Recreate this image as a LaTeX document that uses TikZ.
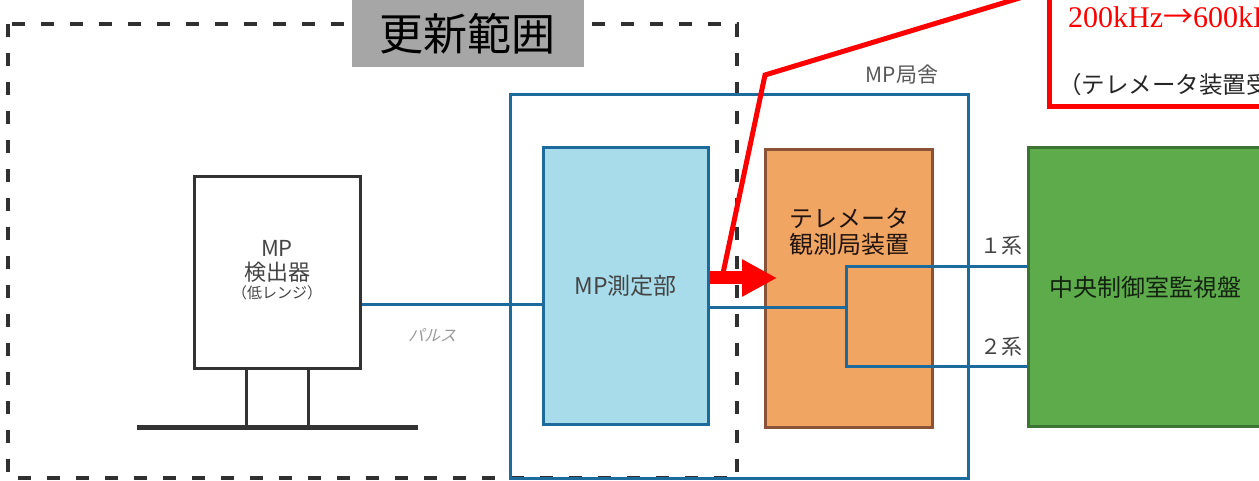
\documentclass[tikz,border=0pt]{standalone}
\usepackage{fontspec}
\setmainfont{Noto Sans CJK JP}
\newfontfamily\serifrm{Liberation Serif}
\newfontfamily\cjkfont{Noto Sans CJK JP}
\newfontfamily\handfont{Noto Sans CJK JP}[FakeSlant=0.25]
\usetikzlibrary{arrows.meta}
\definecolor{lineblue}{HTML}{1D6A9C}
\definecolor{meterfill}{HTML}{A8DCEA}
\definecolor{telefill}{HTML}{F0A562}
\definecolor{teledraw}{HTML}{8A5236}
\definecolor{greenfill}{HTML}{5EAB4C}
\definecolor{greendraw}{HTML}{3B7433}
\definecolor{grayfill}{HTML}{A6A6A6}
\definecolor{dashblack}{HTML}{303030}
\definecolor{detblack}{HTML}{333333}
\definecolor{textgray}{HTML}{444444}
\definecolor{callred}{HTML}{FF0000}
\tikzset{
  fs/.style={font=\fontsize{#1}{#1}\selectfont},
  unitbox/.style={inner sep=0pt, line width=3pt},
  bluewire/.style={draw=lineblue, line width=3pt},
  plaintext/.style={inner sep=0pt, text=textgray},
}
\begin{document}
\begin{tikzpicture}[x=1pt,y=-1pt]
\useasboundingbox (0,0) rectangle (1259,481);
\clip (0,0) rectangle (1259,481);
\fill[white] (0,0) rectangle (1259,481);

% update range (dashed)
\draw[dashblack, line width=3.5pt, dash pattern=on 13pt off 16pt] (8,24) rectangle (737,478);
\node[fill=grayfill, minimum width=232pt, minimum height=67pt, inner sep=0pt, fs=44] (range) at (467.5,33.5) {更新範囲};

% MP station house
\node[unitbox, draw=lineblue, minimum width=458pt, minimum height=383pt] (house) at (739,286.5) {};
\node[plaintext, fs=21, text=textgray!90] (houselabel) at (902,75) {MP局舎};

% detector
\node[unitbox, draw=detblack, minimum width=166pt, minimum height=191pt] (det) at (277,272.5) {};
\node[plaintext, fs=22] (detmp) at (277,248) {MP};
\node[plaintext, fs=22] (detname) at (277,272) {検出器};
\node[plaintext, fs=15] (detrange) at (277,293) {（低レンジ）};
\coordinate (legA) at (246,427);
\coordinate (legB) at (308,427);
\coordinate (baseL) at (137,427);
\coordinate (baseR) at (418,427);
\draw[detblack, line width=3pt] (legA |- det.south) -- (legA);
\draw[detblack, line width=3pt] (legB |- det.south) -- (legB);
\draw[detblack, line width=5pt] (baseL) -- (baseR);

% MP measuring unit
\node[unitbox, draw=lineblue, fill=meterfill, minimum width=165pt, minimum height=276pt, fs=23, text=textgray] (meter) at (625.5,286) {MP測定部};

% telemeter
\node[unitbox, draw=teledraw, fill=telefill, minimum width=167pt, minimum height=277pt] (tele) at (848.5,288.5) {};
\node[inner sep=0pt, align=center, font=\fontsize{24}{26}\selectfont, text=black!75!teledraw] (teletext) at (849,232) {テレメータ\\観測局装置};

% central control panel
\node[unitbox, draw=greendraw, fill=greenfill, minimum width=234pt, minimum height=278pt, fs=24, text=black!70!greendraw] (panel) at (1145,287) {中央制御室監視盤};

% wires
\coordinate (pulseY) at (0,304);
\draw[bluewire] (det.east |- pulseY) -- (meter.west |- pulseY);
\node[inner sep=0pt, font=\handfont\fontsize{16}{16}\selectfont, text=gray!80] (pulse) at (432,335) {パルス};
\coordinate (split) at (846,307);
\coordinate (sysA) at (846,267);
\coordinate (sysB) at (846,366);
\draw[bluewire] (meter.east |- split) -- (split);
\draw[bluewire] (panel.west |- sysA) -- (sysA) -- (sysB) -- (panel.west |- sysB);
\node[plaintext, fs=21] (sysAlabel) at (1001,246) {１系};
\node[plaintext, fs=21] (sysBlabel) at (1001,347) {２系};

% red callout
\coordinate (callNW) at (1049,-20);
\coordinate (callSE) at (1300,107);
\draw[callred, line width=5pt] (callNW) rectangle (callSE);
\node[anchor=base west, inner sep=0pt, text=callred, font=\serifrm\fontsize{30}{30}\selectfont] (freq) at (1068,28) {200kHz{\cjkfont →}600kHz};
\node[anchor=base west, inner sep=0pt, fs=23.5, text=black!85] (note) at (1058,94) {（テレメータ装置受};
\coordinate (leadfar) at (1046,-10);
\coordinate (leadbend) at (765,75);
\coordinate (leadend) at (722,278);
\draw[callred, line width=5pt, line join=miter] (leadfar) -- (leadbend) -- (leadend);
\coordinate (arrowY) at (0,278);
\coordinate (arrowtip) at (777,278);
\draw[callred, line width=13pt, -{Triangle[length=35pt, width=35pt]}] (meter.east |- arrowY) -- (arrowtip);
\end{tikzpicture}
\end{document}
